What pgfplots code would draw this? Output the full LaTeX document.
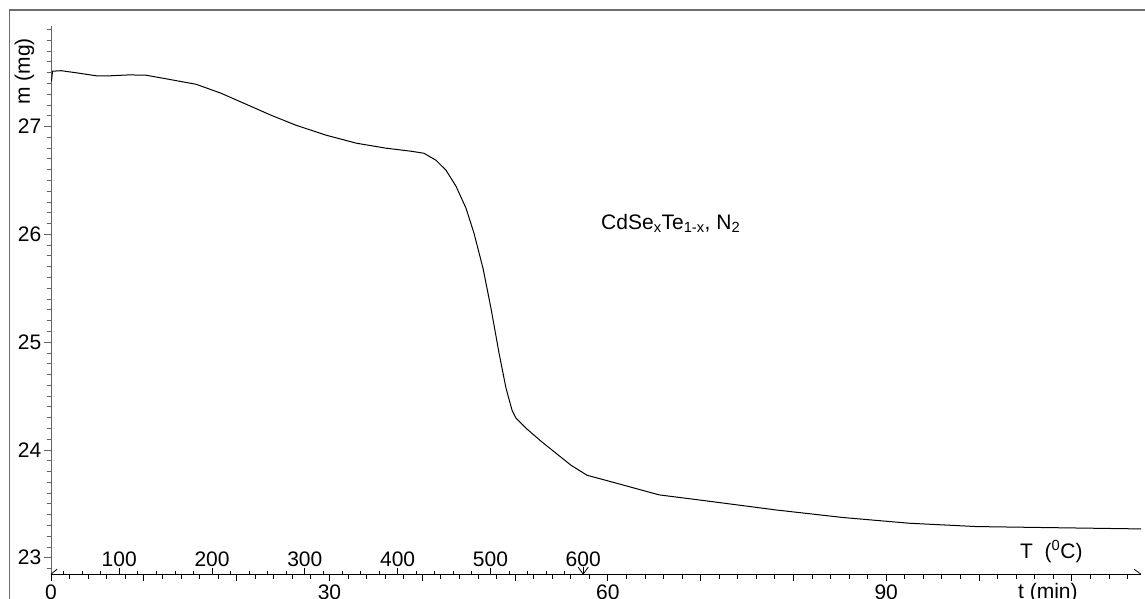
\documentclass[border=0pt]{standalone}
\usepackage{fontspec}
\setmainfont{Liberation Sans}
\usepackage{pgfplots}
\pgfplotsset{compat=1.18}
\definecolor{axgray}{RGB}{100,100,100}
\definecolor{framegray}{RGB}{110,110,110}
\begin{document}
\fontsize{21}{25}\selectfont
\begin{tikzpicture}[x=1pt,y=1pt]
\useasboundingbox (0,0) rectangle (1145,599);
\draw[framegray, line width=1.5pt] (9.5,-2) -- (9.5,589) -- (1147,589);
\begin{axis}[
  at={(55,23)}, anchor=south west,
  scale only axis, width=1090pt, height=547.7pt,
  xmin=0, xmax=117.46, ymin=22.847, ymax=27.928,
  axis x line=bottom, axis y line=left,
  x axis line style={-, black, line width=1pt},
  y axis line style={-, axgray, line width=1pt},
  tick align=outside,
  xtick={0,10,...,110},
  xticklabels={0,,,30,,,60,,,90,,},
  minor xtick={0,2,...,116},
  ytick={23,24,25,26,27},
  minor ytick={22.9,23.0,...,28.0},
  major tick length=7pt, minor tick length=4.5pt,
  x tick style={black, line width=0.8pt},
  y tick style={axgray, line width=0.8pt},
  xticklabel style={font=\fontsize{21}{25}\selectfont, inner sep=3pt},
  yticklabel style={font=\fontsize{21}{25}\selectfont, inner sep=2.5pt},
  /pgf/number format/assume math mode=true,
  clip=false,
]
\addplot[black, line width=1pt] coordinates {
(0.05,27.42) (0.16,27.513) (1.08,27.518) (2.69,27.499) (4.85,27.471)
(6.47,27.471) (8.41,27.479) (10.24,27.476) (12.39,27.443) (15.63,27.392)
(18.32,27.309) (21.01,27.207) (23.71,27.105) (26.40,27.012) (29.63,26.920)
(32.87,26.846) (36.10,26.799) (38.79,26.771) (40.19,26.752) (41.49,26.687)
(42.56,26.595) (43.64,26.446) (44.72,26.242) (45.58,26.010) (46.55,25.685)
(47.41,25.314) (48.28,24.897) (49.03,24.572) (49.68,24.368) (50.11,24.294)
(51.19,24.201) (52.80,24.081) (54.42,23.969) (56.03,23.858) (57.76,23.765)
(60.13,23.710) (65.52,23.583) (70.91,23.524) (78.13,23.443) (85.34,23.373)
(92.46,23.320) (99.68,23.289) (106.9,23.280) (117.46,23.267)
};
% temperature scale (T = 26.5 + 10 t), minor ticks every 20 C
\pgfplotsinvokeforeach{1.35,3.35,5.35,9.35,11.35,13.35,15.35,19.35,21.35,23.35,25.35,29.35,31.35,33.35,35.35,39.35,41.35,43.35,45.35,49.35,51.35,53.35,55.35}{
  \draw[black, line width=0.8pt] (axis cs:#1,22.847) -- ([yshift=3.7pt]axis cs:#1,22.847);
}
\pgfplotsinvokeforeach{100,200,300,400,500}{
  \draw[black, line width=0.8pt] (axis cs:{(#1-26.5)/10},22.847) -- ([yshift=6pt]axis cs:{(#1-26.5)/10},22.847);
  \node[anchor=base, inner sep=0pt] at (axis cs:{(#1-26.5)/10},22.921) {#1};
}
\draw[black, line width=0.8pt] (axis cs:57.35,22.847) -- ([yshift=7pt]axis cs:57.35,22.847);
\draw[black, line width=0.8pt] ([xshift=-5pt,yshift=7pt]axis cs:57.35,22.847) -- (axis cs:57.35,22.847) -- ([xshift=5pt,yshift=7pt]axis cs:57.35,22.847);
\node[anchor=base, inner sep=0pt] at (axis cs:57.35,22.921) {600};
\node[rotate=90] at (rel axis cs:-0.0243,0.918) {m (mg)};
\node[anchor=base west, inner sep=0pt] at (axis cs:59.27,26.047) {CdSe\textsubscript{x}Te\textsubscript{1-x}, N\textsubscript{2}};
\node[anchor=base west, inner sep=0pt] at (axis cs:104.42,22.995) {T~~(\textsuperscript{0}C)};
\node[anchor=base west, inner sep=0pt] at (axis cs:104.2,22.62) {t (min)};
\draw[black, line width=0.8pt] (axis cs:0,22.847) -- ([xshift=6pt,yshift=5pt]axis cs:0,22.847);
\draw[black, line width=0.8pt] (axis cs:117.46,22.847) -- ([xshift=-7pt,yshift=5pt]axis cs:117.46,22.847);
\end{axis}
\end{tikzpicture}
\end{document}
